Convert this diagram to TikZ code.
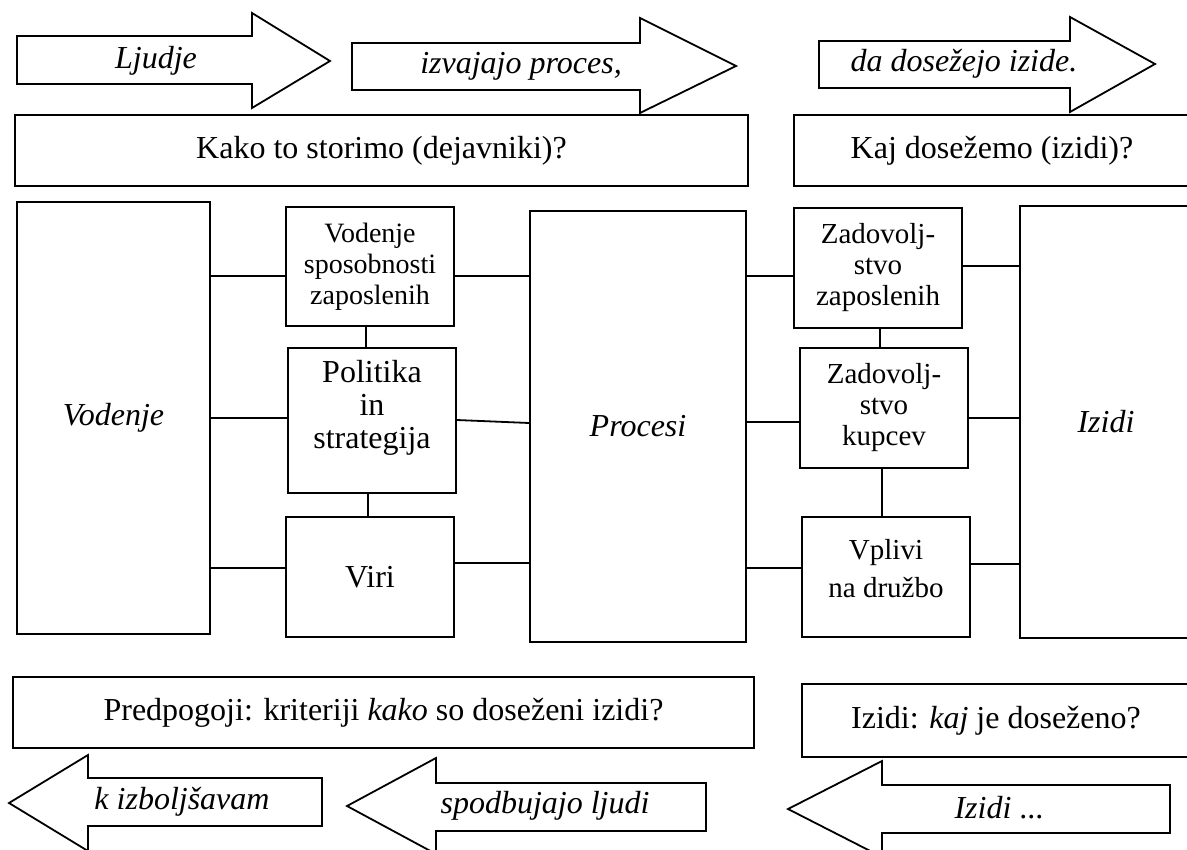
\documentclass[tikz,border=0pt]{standalone}
\usepackage{fontspec}
\setmainfont{Liberation Serif}
\tikzset{
  okvir/.style={draw, line width=0.9pt, inner sep=0pt, align=center},
  manjsi/.style={font=\fontsize{14.5}{15.5}\selectfont},
  puscica/.style={draw, line width=0.9pt, line join=miter},
  napis/.style={inner sep=0pt, font=\fontsize{16}{16.5}\selectfont\itshape},
  povezava/.style={line width=0.9pt},
}
\begin{document}
\begin{tikzpicture}[x=0.5pt, y=-0.5pt, font=\fontsize{16}{16.5}\selectfont]
    \useasboundingbox (0,0) rectangle (1187,850);
    % puscice zgoraj
    \draw[puscica] (17,36) -- (252,36) -- (252,13) -- (330,61) -- (252,108) -- (252,84) -- (17,84) -- cycle;
    \draw[puscica] (352,43) -- (640,43) -- (640,18) -- (736,66) -- (640,113) -- (640,90) -- (352,90) -- cycle;
    \draw[puscica] (819,41) -- (1070,41) -- (1070,17) -- (1155,64) -- (1070,112) -- (1070,88) -- (819,88) -- cycle;
    \node[napis] (ljudje) at (156,61) {Ljudje};
    \node[napis] (izvajajo) at (521,66) {izvajajo proces,};
    \node[napis] (dosezejo) at (964,64) {da dosežejo izide.};
    \node[okvir, minimum width=366.5pt, minimum height=35.5pt] (kako) at (381.5,150.5) {Kako to storimo (dejavniki)?};
    \node[okvir, minimum width=198pt, minimum height=35.5pt] (kaj) at (992,150.5) {Kaj dosežemo (izidi)?};
    % dejavniki
    \node[okvir, minimum width=96.5pt, minimum height=216pt] (vodenje) at (113.5,418) {\textit{Vodenje}};
    \node[okvir, manjsi, font=\fontsize{14}{15.5}\selectfont, minimum width=84pt, minimum height=59.5pt] (sposob) at (370,266.5) {Vodenje\\sposobnosti\\zaposlenih};
    \node[okvir, minimum width=84pt, minimum height=72.5pt] (politika) at (372,420.5) {Politika\\in\\strategija\\\mbox{}};
    \node[okvir, minimum width=84pt, minimum height=60pt] (viri) at (370,577) {Viri};
    \node[okvir, minimum width=108pt, minimum height=215.5pt] (procesi) at (638,426.5) {\textit{Procesi}};
    % izidi
    \node[okvir, manjsi, minimum width=84pt, minimum height=60pt] (zadzap) at (878,268) {Zadovolj-\\stvo\\zaposlenih};
    \node[okvir, manjsi, minimum width=84pt, minimum height=60pt] (zadkup) at (884,408) {Zadovolj-\\stvo\\kupcev};
    \node[okvir, manjsi, minimum width=84pt, minimum height=60pt] (vplivi) at (886,577) {Vplivi\\[3.5pt]na družbo\\[-6.5pt]\mbox{}};
    \node[okvir, minimum width=86pt, minimum height=216pt] (izidi) at (1106,422) {\textit{Izidi}};
    % povezave
    \draw[povezava] (vodenje.east |- 0,276) -- (sposob.west |- 0,276);
    \draw[povezava] (vodenje.east |- 0,418) -- (politika.west |- 0,418);
    \draw[povezava] (vodenje.east |- 0,568) -- (viri.west |- 0,568);
    \draw[povezava] (sposob.east |- 0,276) -- (procesi.west |- 0,276);
    \draw[povezava] (politika.east |- 0,420) -- (procesi.west |- 0,423);
    \draw[povezava] (viri.east |- 0,563) -- (procesi.west |- 0,563);
    \draw[povezava] (sposob.south -| 366,0) -- (politika.north -| 366,0);
    \draw[povezava] (politika.south -| 368,0) -- (viri.north -| 368,0);
    \draw[povezava] (procesi.east |- 0,276) -- (zadzap.west |- 0,276);
    \draw[povezava] (procesi.east |- 0,422) -- (zadkup.west |- 0,422);
    \draw[povezava] (procesi.east |- 0,568) -- (vplivi.west |- 0,568);
    \draw[povezava] (zadzap.east |- 0,266) -- (izidi.west |- 0,266);
    \draw[povezava] (zadkup.east |- 0,418) -- (izidi.west |- 0,418);
    \draw[povezava] (vplivi.east |- 0,564) -- (izidi.west |- 0,564);
    \draw[povezava] (zadzap.south -| 880,0) -- (zadkup.north -| 880,0);
    \draw[povezava] (zadkup.south -| 882,0) -- (vplivi.north -| 882,0);
    % spodaj
    \node[okvir, minimum width=370.5pt, minimum height=35.5pt] (predpogoji) at (383.5,712.5) {Predpogoji: kriteriji \textit{kako} so doseženi izidi?};
    \node[okvir, minimum width=194pt, minimum height=36.5pt] (izidikaj) at (996,720.5) {Izidi: \textit{kaj} je doseženo?};
    \draw[puscica] (322,778) -- (88,778) -- (88,755) -- (9,803) -- (88,851) -- (88,826) -- (322,826) -- cycle;
    \draw[puscica] (706,783) -- (436,783) -- (436,758) -- (347,806) -- (436,854) -- (436,831) -- (706,831) -- cycle;
    \draw[puscica] (1170,785) -- (882,785) -- (882,761) -- (788,809) -- (882,857) -- (882,833) -- (1170,833) -- cycle;
    \node[napis] (izboljsave) at (182,802) {k izboljšavam};
    \node[napis] (spodbujajo) at (545,806) {spodbujajo ljudi};
    \node[inner sep=0pt] (izidipus) at (999,808) {\textit{Izidi} ...};
\end{tikzpicture}
\end{document}
